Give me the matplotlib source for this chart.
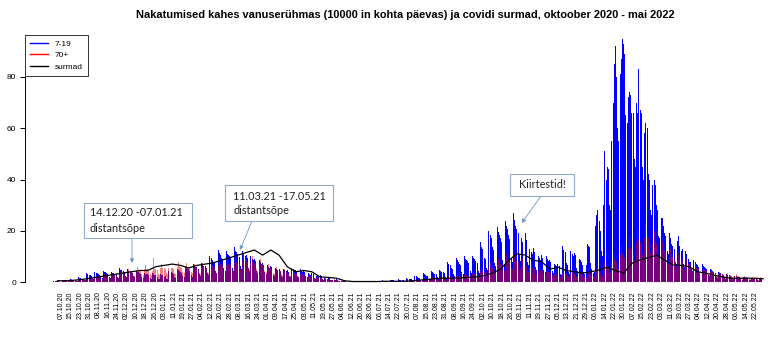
import numpy as np
import pandas as pd
import matplotlib
matplotlib.use('Agg')
import matplotlib.pyplot as plt
from matplotlib.lines import Line2D
from matplotlib.patches import Rectangle

# =============================================================================
# Data: daily values, one row per week (weeks start on Thursday, 01.10.2020)
# =============================================================================
start = pd.Timestamp('2020-10-01')

# 7-19 years, cases per 10000 per day
age_7_19 = [
    [0.5, 0.4, 0.4, 0.4, 0.3, 0.2, 0.2], [0.8, 0.7, 0.6, 0.6, 0.5, 0.3, 0.3],
    [1.0, 0.9, 0.9, 0.8, 0.7, 0.4, 0.3], [1.8, 1.6, 1.5, 1.3, 1.2, 0.8, 0.6],
    [3.5, 3.1, 2.9, 2.6, 2.4, 1.5, 1.2], [4.0, 3.7, 3.4, 3.2, 2.9, 1.8, 1.4],
    [4.5, 4.0, 3.8, 3.6, 3.3, 2.0, 1.6], [4.0, 3.6, 3.4, 3.3, 3.0, 1.8, 1.5],
    [5.5, 4.8, 4.6, 4.2, 3.9, 2.4, 1.9], [5.0, 4.5, 4.3, 4.1, 3.7, 2.2, 1.8],
    [4.5, 4.0, 3.8, 3.7, 3.3, 2.0, 1.6], [3.5, 3.2, 3.0, 3.0, 2.7, 1.6, 1.3],
    [3.5, 3.0, 2.6, 2.8, 2.0, 1.2, 1.0], [3.0, 2.8, 2.7, 1.8, 2.2, 1.3, 1.0],
    [4.5, 4.1, 3.9, 3.5, 3.2, 2.0, 1.6], [5.0, 4.6, 4.3, 4.0, 3.6, 2.2, 1.8],
    [6.0, 5.5, 5.1, 4.9, 4.4, 2.7, 2.1], [7.0, 6.4, 6.0, 5.7, 5.1, 3.2, 2.5],
    [7.5, 6.9, 6.4, 6.2, 5.5, 3.4, 2.7], [10.0, 9.2, 8.6, 8.0, 7.3, 4.5, 3.6],
    [12.5, 11.4, 10.7, 9.5, 8.8, 5.6, 4.5], [12.0, 11.0, 10.4, 10.3, 9.2, 5.4, 4.3],
    [13.5, 12.3, 11.6, 10.8, 9.9, 6.1, 4.9], [12.0, 10.9, 10.2, 10.6, 9.5, 5.4, 4.3],
    [10.0, 9.1, 8.5, 9.0, 8.1, 4.5, 3.6], [8.5, 7.7, 7.2, 7.6, 6.8, 3.8, 3.1],
    [6.5, 5.9, 5.5, 6.4, 5.7, 2.9, 2.3], [5.5, 5.0, 4.7, 5.0, 4.5, 2.5, 2.0],
    [5.0, 4.6, 4.3, 4.6, 4.1, 2.3, 1.8], [5.5, 5.0, 4.7, 4.7, 4.3, 2.5, 2.0],
    [5.0, 4.5, 4.1, 4.5, 4.0, 2.3, 1.8], [3.5, 3.1, 2.8, 3.7, 3.2, 1.6, 1.3],
    [2.5, 2.2, 2.0, 2.6, 2.3, 1.1, 0.9], [1.5, 1.3, 1.1, 1.8, 1.5, 0.7, 0.6],
    [0.8, 0.7, 0.6, 1.0, 0.9, 0.4, 0.3], [0.5, 0.5, 0.4, 0.6, 0.5, 0.3, 0.2],
    [0.4, 0.3, 0.3, 0.4, 0.4, 0.2, 0.2], [0.3, 0.3, 0.3, 0.3, 0.3, 0.1, 0.1],
    [0.3, 0.3, 0.3, 0.3, 0.2, 0.1, 0.1], [0.4, 0.4, 0.3, 0.3, 0.3, 0.2, 0.1],
    [0.6, 0.5, 0.5, 0.4, 0.4, 0.2, 0.2], [0.8, 0.7, 0.7, 0.6, 0.5, 0.3, 0.3],
    [1.0, 0.9, 0.9, 0.8, 0.7, 0.4, 0.3], [1.5, 1.3, 1.2, 1.1, 1.0, 0.6, 0.5],
    [2.5, 2.2, 2.0, 1.6, 1.5, 0.9, 0.7], [3.5, 3.1, 2.9, 2.5, 2.3, 1.3, 1.0],
    [4.5, 4.0, 3.7, 3.3, 3.0, 1.8, 1.4], [4.8, 4.4, 4.1, 3.8, 3.4, 2.0, 1.6],
    [8.0, 7.2, 6.6, 5.5, 5.0, 3.0, 2.4], [9.5, 8.6, 8.0, 7.2, 6.5, 3.8, 3.0],
    [10.0, 9.1, 8.6, 8.3, 7.5, 4.3, 3.4], [10.0, 9.2, 8.9, 8.4, 7.6, 4.3, 3.5],
    [15.5, 13.8, 12.9, 9.5, 8.8, 5.5, 4.6], [20.0, 18.3, 17.2, 13.5, 12.5, 7.5, 6.2],
    [21.5, 19.6, 18.5, 17.0, 15.5, 8.6, 7.0], [24.0, 22.0, 20.8, 18.3, 16.9, 9.5, 7.8],
    [27.0, 24.3, 22.0, 20.5, 19.0, 10.4, 8.4], [17.0, 15.5, 14.4, 19.0, 16.5, 8.0, 6.5],
    [13.0, 11.8, 11.0, 13.2, 11.8, 6.0, 4.8], [10.0, 9.2, 8.7, 10.5, 9.5, 4.6, 3.8],
    [10.0, 9.0, 8.3, 8.6, 7.8, 4.2, 3.4], [7.0, 6.6, 6.4, 7.0, 6.3, 3.2, 2.6],
    [14.0, 12.6, 11.8, 7.5, 6.8, 4.0, 3.3], [12.0, 10.9, 10.2, 11.5, 10.4, 5.4, 4.4],
    [9.0, 8.5, 7.8, 6.5, 3.8, 3.2, 6.5], [15.0, 14.2, 13.5, 7.5, 5.0, 3.5, 4.0],
    [22, 26, 28, 24, 20, 12, 10], [30, 51, 40, 45, 44, 30, 28],
    [55, 70, 85, 92, 80, 60, 55], [81, 87, 95, 93, 89, 65, 62],
    [72, 74, 73, 66, 66, 48, 45], [70, 66, 83, 67, 66, 45, 40],
    [58, 62, 60, 42, 40, 28, 26], [38, 40, 38, 30, 28, 18, 17],
    [25, 25, 22, 19, 18, 12, 11], [19, 17, 15, 14, 13, 8, 7],
    [16, 18, 14, 12, 13, 7, 6], [12, 11, 9, 8, 8, 5, 4.5],
    [8.6, 8.0, 7.0, 6.5, 6.0, 3.5, 3.0], [7.0, 6.4, 6.0, 5.5, 5.0, 2.8, 2.3],
    [5.0, 4.6, 4.3, 4.0, 3.6, 2.0, 1.6], [4.0, 3.6, 3.4, 3.2, 2.8, 1.6, 1.3],
    [3.0, 2.7, 2.6, 2.4, 2.1, 1.2, 1.0], [2.5, 2.3, 2.1, 2.0, 1.8, 1.0, 0.8],
    [2.0, 1.8, 1.7, 1.6, 1.4, 0.8, 0.7], [1.5, 1.4, 1.3, 1.2, 1.1, 0.6, 0.5],
    [1.2, 1.1, 1.0],
]

# 70+ years, cases per 10000 per day
age_70 = [
    [0.4, 0.5, 0.4, 0.4, 0.4, 0.3, 0.2], [0.6, 0.8, 0.6, 0.6, 0.6, 0.4, 0.4],
    [0.8, 1.0, 0.8, 0.8, 0.7, 0.5, 0.5], [1.1, 1.5, 1.2, 1.1, 1.1, 0.8, 0.7],
    [1.5, 2.0, 1.6, 1.5, 1.4, 1.0, 0.9], [1.9, 2.5, 2.0, 1.9, 1.8, 1.3, 1.1],
    [2.3, 3.0, 2.4, 2.3, 2.1, 1.5, 1.4], [2.6, 3.5, 2.8, 2.6, 2.5, 1.8, 1.6],
    [3.0, 4.0, 3.2, 3.0, 2.8, 2.0, 1.8], [3.8, 5.0, 4.0, 3.8, 3.5, 2.5, 2.3],
    [4.5, 6.0, 4.8, 4.5, 4.2, 3.0, 2.7], [4.9, 6.5, 5.2, 4.9, 4.6, 3.3, 2.9],
    [4.5, 9.5, 5.2, 4.9, 4.6, 3.3, 2.9], [5.3, 7.0, 5.6, 5.3, 4.9, 3.5, 3.2],
    [5.3, 7.0, 5.6, 5.3, 4.9, 3.5, 3.2], [6.0, 8.0, 6.4, 6.0, 5.6, 4.0, 3.6],
    [5.6, 7.5, 6.0, 5.6, 5.3, 3.8, 3.4], [5.3, 7.0, 5.6, 5.3, 4.9, 3.5, 3.2],
    [5.6, 7.5, 6.0, 5.6, 5.3, 3.8, 3.4], [6.0, 8.0, 6.4, 6.0, 5.6, 4.0, 3.6],
    [6.8, 9.0, 7.2, 6.8, 6.3, 4.5, 4.1], [6.8, 9.0, 7.2, 6.8, 6.3, 4.5, 4.1],
    [7.5, 10.0, 8.0, 7.5, 7.0, 5.0, 4.5], [8.3, 11.0, 8.8, 8.3, 7.7, 5.5, 5.0],
    [7.5, 10.0, 8.0, 7.5, 7.0, 5.0, 4.5], [6.8, 9.0, 7.2, 6.8, 6.3, 4.5, 4.1],
    [5.3, 7.0, 5.6, 5.3, 4.9, 3.5, 3.2], [4.5, 6.0, 4.8, 4.5, 4.2, 3.0, 2.7],
    [3.8, 5.0, 4.0, 3.8, 3.5, 2.5, 2.3], [3.4, 4.5, 3.6, 3.4, 3.2, 2.3, 2.0],
    [3.0, 4.0, 3.2, 3.0, 2.8, 2.0, 1.8], [2.3, 3.0, 2.4, 2.3, 2.1, 1.5, 1.4],
    [1.5, 2.0, 1.6, 1.5, 1.4, 1.0, 0.9], [1.1, 1.5, 1.2, 1.1, 1.1, 0.8, 0.7],
    [0.8, 1.0, 0.8, 0.8, 0.7, 0.5, 0.5], [0.5, 0.6, 0.5, 0.5, 0.4, 0.3, 0.3],
    [0.3, 0.4, 0.3, 0.3, 0.3, 0.2, 0.2], [0.2, 0.3, 0.2, 0.2, 0.2, 0.2, 0.1],
    [0.2, 0.3, 0.2, 0.2, 0.2, 0.2, 0.1], [0.2, 0.3, 0.2, 0.2, 0.2, 0.2, 0.1],
    [0.2, 0.3, 0.2, 0.2, 0.2, 0.2, 0.1], [0.3, 0.4, 0.3, 0.3, 0.3, 0.2, 0.2],
    [0.4, 0.5, 0.4, 0.4, 0.4, 0.3, 0.2], [0.5, 0.7, 0.6, 0.5, 0.5, 0.4, 0.3],
    [0.8, 1.0, 0.8, 0.8, 0.7, 0.5, 0.5], [1.0, 1.3, 1.0, 1.0, 0.9, 0.7, 0.6],
    [1.4, 1.8, 1.4, 1.4, 1.3, 0.9, 0.8], [1.5, 2.0, 1.6, 1.5, 1.4, 1.0, 0.9],
    [1.9, 2.5, 2.0, 1.9, 1.8, 1.3, 1.1], [2.3, 3.0, 2.4, 2.3, 2.1, 1.5, 1.4],
    [2.6, 3.5, 2.8, 2.6, 2.5, 1.8, 1.6], [3.0, 4.0, 3.2, 3.0, 2.8, 2.0, 1.8],
    [4.1, 5.5, 4.4, 4.1, 3.9, 2.8, 2.5], [5.6, 7.5, 6.0, 5.6, 5.3, 3.8, 3.4],
    [7.1, 9.5, 7.6, 7.1, 6.7, 4.8, 4.3], [8.3, 11.0, 8.8, 8.3, 7.7, 5.5, 5.0],
    [8.3, 11.0, 8.8, 8.3, 7.7, 5.5, 5.0], [6.8, 9.0, 7.2, 6.8, 6.3, 4.5, 4.1],
    [5.3, 7.0, 5.6, 5.3, 4.9, 3.5, 3.2], [4.5, 6.0, 4.8, 4.5, 4.2, 3.0, 2.7],
    [3.8, 5.0, 4.0, 3.8, 3.5, 2.5, 2.3], [3.0, 4.0, 3.2, 3.0, 2.8, 2.0, 1.8],
    [3.0, 4.0, 3.2, 3.0, 2.8, 2.0, 1.8], [3.0, 4.0, 3.2, 3.0, 2.8, 2.0, 1.8],
    [2.6, 3.5, 2.8, 2.6, 2.5, 1.8, 1.6], [3.0, 4.0, 3.2, 3.0, 2.8, 2.0, 1.8],
    [3.8, 5.0, 4.0, 3.8, 3.5, 2.5, 2.3], [6.0, 8.0, 6.4, 6.0, 5.6, 4.0, 3.6],
    [8.3, 11.0, 8.8, 8.3, 7.7, 5.5, 5.0], [10.5, 14.0, 11.2, 10.5, 9.8, 7.0, 6.3],
    [12.8, 17.0, 13.6, 12.8, 11.9, 8.5, 7.7], [15.8, 21.0, 16.8, 15.8, 14.7, 10.5, 9.5],
    [17.3, 23.0, 18.4, 17.3, 16.1, 11.5, 10.4], [15.0, 20.0, 16.0, 15.0, 14.0, 10.0, 9.0],
    [12.0, 16.0, 12.8, 12.0, 11.2, 8.0, 7.2], [9.8, 13.0, 10.4, 9.8, 9.1, 6.5, 5.9],
    [8.3, 11.0, 8.8, 8.3, 7.7, 5.5, 5.0], [6.8, 9.0, 7.2, 6.8, 6.3, 4.5, 4.1],
    [5.3, 7.0, 5.6, 5.3, 4.9, 3.5, 3.2], [4.5, 6.0, 4.8, 4.5, 4.2, 3.0, 2.7],
    [3.8, 5.0, 4.0, 3.8, 3.5, 2.5, 2.3], [3.0, 4.0, 3.2, 3.0, 2.8, 2.0, 1.8],
    [2.6, 3.5, 2.8, 2.6, 2.5, 1.8, 1.6], [2.3, 3.0, 2.4, 2.3, 2.1, 1.5, 1.4],
    [1.9, 2.5, 2.0, 1.9, 1.8, 1.3, 1.1], [1.5, 2.0, 1.6, 1.5, 1.4, 1.0, 0.9],
    [1.5, 2.0, 1.6],
]

# covid deaths, one value per week (drawn at mid-week)
deaths = [0.5, 0.5, 0.7, 1.0,
          1.5, 2.0, 2.5, 3.0, 3.5, 4.0, 4.5, 4.5, 6.0, 6.5,
          7.0, 6.5, 5.5, 6.5, 7.0, 7.5, 8.5, 9.5, 10.5, 11.5,
          12.5, 10.5, 12.5, 10.5, 6.0, 4.0, 4.5, 4.0, 2.0, 1.8,
          1.5, 0.5, 0.2, 0.2, 0.2, 0.2, 0.3, 0.3, 0.3, 0.4,
          0.7, 1.0, 1.3, 1.5, 1.5, 1.6, 1.8, 2.0, 2.5, 3.5,
          5.0, 8.5, 11.0, 10.5, 8.5, 8.0, 5.0, 5.8, 4.5, 4.0,
          3.5, 4.0, 4.7, 5.8, 4.5, 3.5, 7.3, 8.6, 9.5, 10.5,
          8.6, 6.6, 6.5, 6.0, 4.0, 3.5, 2.7, 2.0, 1.5, 1.5,
          1.5, 1.5, 1.3]

tick_dates = pd.date_range('2020-10-07', '2022-05-22', freq='8D')
tick_labels = tick_dates.strftime('%d.%m.%y')

kids = np.concatenate([np.array(w, dtype=float) for w in age_7_19])
old = np.concatenate([np.array(w, dtype=float) for w in age_70])
days = np.arange(len(kids))
death_days = np.arange(len(deaths)) * 7 + 3
tick_pos = (tick_dates - start).days

# =============================================================================
# Plot
# =============================================================================
W, H = 768, 338
fig = plt.figure(figsize=(W / 100, H / 100), dpi=100)
ax = fig.add_axes([25 / W, (H - 284.6) / H, 740 / W, (284.6 - 33.4) / H])

# semi transparent red over blue -> purple where both groups overlap
ax.bar(days, kids, width=0.85, color='#0000ff', linewidth=0)
ax.bar(days, old, width=0.85, color='#f00000', alpha=0.5, linewidth=0)
ax.plot(death_days, deaths, color='black', lw=0.9)

ax.set_xlim(-24.7, 606.6)
ax.set_ylim(-1, 97)
for s in ['top', 'right', 'bottom']:
    ax.spines[s].set_visible(False)
ax.spines['left'].set_bounds(0, 80)
ax.spines['left'].set_linewidth(0.7)
ax.set_yticks([0, 20, 40, 60, 80])
ax.tick_params(axis='y', length=3.5, width=0.7, pad=3, labelsize=6)
ax.set_xticks(tick_pos)
ax.set_xticklabels(tick_labels, rotation=90, fontsize=5)
ax.tick_params(axis='x', length=0, pad=5)
for lab in ax.get_xticklabels() + ax.get_yticklabels():
    lab.set_family('Liberation Sans')

fig.text(405 / W, 1 - 15 / H,
         'Nakatumised kahes vanuserühmas (10000 in kohta päevas) ja covidi surmad, oktoober 2020 - mai 2022',
         ha='center', va='center', fontsize=7.9, fontweight='bold', family='Liberation Sans')

handles = [Line2D([], [], color='#0000ff', lw=1),
           Line2D([], [], color='#ff0000', lw=1),
           Line2D([], [], color='black', lw=1)]
leg = fig.legend(handles, ['7-19', '70+', 'surmad'], loc='upper left',
                 bbox_to_anchor=(25 / W, 1 - 35 / H), borderaxespad=0,
                 fancybox=False, framealpha=1, edgecolor='#333333',
                 prop={'family': 'Liberation Sans', 'size': 6},
                 handlelength=2.2, labelspacing=0.45, borderpad=0.6)
leg.get_frame().set_linewidth(0.7)

# annotation boxes (pixel positions from the picture)
box_edge = '#8faad0'
arrow_col = '#6f97c8'
boxes = [(84, 203, 108, 35), (225, 185, 108, 36), (510, 174, 64, 22)]
for x0, y0, w, h in boxes:
    fig.patches.append(Rectangle((x0 / W, 1 - (y0 + h) / H), w / W, h / H,
                                 transform=fig.transFigure, facecolor='white',
                                 edgecolor=box_edge, lw=0.8, zorder=5))

txt = dict(fontsize=7.8, family='Lato', color='#222222', zorder=6, va='center')
fig.text(90 / W, 1 - 213 / H, '14.12.20 -07.01.21', **txt)
fig.text(90 / W, 1 - 228 / H, 'distantsõpe', **txt)
fig.text(233 / W, 1 - 197 / H, '11.03.21 -17.05.21', **txt)
fig.text(233 / W, 1 - 211 / H, 'distantsõpe', **txt)
fig.text(542 / W, 1 - 185 / H, 'Kiirtestid!', ha='center', **txt)

arrows = [((66.6, 7.4), (132, 238)), ((158.7, 12.5), (252, 221)), ((399, 23), (541, 196))]
for (dx, dy), (px, py) in arrows:
    ax.annotate('', xy=(dx, dy), xycoords='data',
                xytext=(px / W, 1 - py / H), textcoords='figure fraction',
                arrowprops=dict(arrowstyle='-|>', color=arrow_col, lw=0.6,
                                mutation_scale=6, shrinkA=0, shrinkB=0))

fig.savefig('out.png', dpi=100)
